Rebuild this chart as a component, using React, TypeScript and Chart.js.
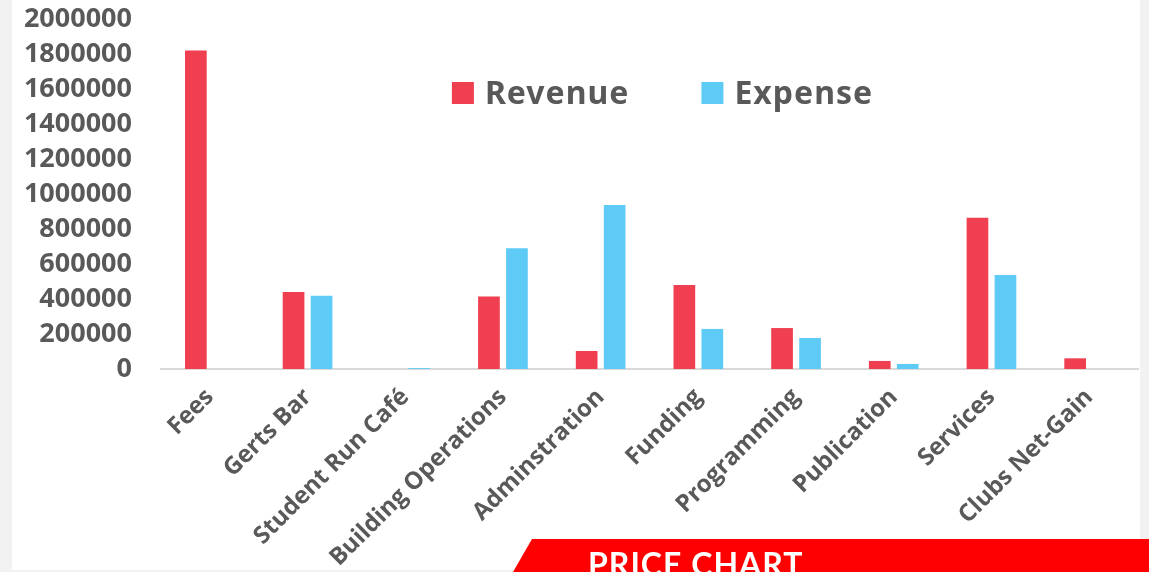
import React, { useEffect, useRef } from "react";
import { Chart, registerables } from "chart.js";

Chart.register(...registerables);

const categories = [
  "Fees",
  "Gerts Bar",
  "Student Run Café",
  "Building Operations",
  "Adminstration",
  "Funding",
  "Programming",
  "Publication",
  "Services",
  "Clubs Net-Gain",
];
const revenue = [1820000, 440000, 0, 415000, 103000, 480000, 234000, 46000, 865000, 61000];
const expense = [0, 419000, 5000, 690000, 937000, 229000, 177000, 29000, 537000, 0];
const yMax = 2000000;
const yStep = 200000;
const bannerText = "PRICE CHART";

const GREY_TEXT = "#595959";

const insideLegend = {
  id: "insideLegend",
  afterDraw(chart: any) {
    const { ctx, chartArea } = chart;
    const box = 22;
    const textGap = 11;
    const itemGap = 72;
    ctx.save();
    ctx.font = "bold 32px 'Noto Sans', sans-serif";
    try {
      (ctx as any).letterSpacing = "1px";
    } catch (e) {}
    const items = chart.data.datasets.map((d: any) => ({
      label: d.label,
      color: d.backgroundColor,
      w: ctx.measureText(d.label).width,
    }));
    const total =
      items.reduce((s: number, it: any) => s + box + textGap + it.w, 0) +
      itemGap * (items.length - 1);
    let x = (chartArea.left + chartArea.right) / 2 + 13 - total / 2;
    const y = chartArea.top + 63;
    for (const it of items) {
      ctx.fillStyle = it.color;
      ctx.fillRect(x, y, box, box);
      ctx.fillStyle = GREY_TEXT;
      ctx.textBaseline = "alphabetic";
      ctx.textAlign = "left";
      ctx.fillText(it.label, x + box + textGap, y + box);
      x += box + textGap + it.w + itemGap;
    }
    ctx.restore();
  },
};

export default function App() {
  const ref = useRef<HTMLCanvasElement | null>(null);

  useEffect(() => {
    if (!ref.current) return;
    const chart = new Chart(ref.current, {
      type: "bar",
      data: {
        labels: categories,
        datasets: [
          {
            label: "Revenue",
            data: revenue,
            backgroundColor: "#f03f51",
            borderWidth: 0,
            categoryPercentage: 0.573,
            barPercentage: 0.775,
          },
          {
            label: "Expense",
            data: expense,
            backgroundColor: "#5ecbf6",
            borderWidth: 0,
            categoryPercentage: 0.573,
            barPercentage: 0.775,
          },
        ],
      },
      options: {
        animation: false,
        responsive: true,
        maintainAspectRatio: false,
        layout: { padding: { top: 19, right: 11, left: 0, bottom: 0 } },
        plugins: {
          tooltip: { enabled: false },
          legend: { display: false },
        },
        scales: {
          x: {
            grid: { display: false, drawTicks: false },
            border: { display: true, color: "#d9d9d9", width: 2 },
            ticks: {
              minRotation: 45,
              maxRotation: 45,
              autoSkip: false,
              padding: 14,
              color: GREY_TEXT,
              font: { family: "'Open Sans', sans-serif", size: 24, weight: "bold" },
            },
            afterFit: (scale: any) => {
              scale.height = 203;
            },
          },
          y: {
            min: 0,
            max: yMax,
            grid: { display: false, drawTicks: true, tickLength: 29 },
            border: { display: false },
            ticks: {
              stepSize: yStep,
              autoSkip: false,
              padding: 0,
              color: GREY_TEXT,
              font: { family: "'Noto Sans', sans-serif", size: 27, weight: "bold" },
              callback: (v: any) => String(v),
            },
            afterFit: (scale: any) => {
              scale.width = 161;
            },
          },
        },
      },
      plugins: [insideLegend],
    });
    return () => chart.destroy();
  }, []);

  return (
    <div
      style={{
        position: "fixed",
        left: 0,
        top: 0,
        width: 1149,
        height: 572,
        background: "#f2f2f2",
        overflow: "hidden",
      }}
    >
      <div
        style={{
          position: "absolute",
          left: 12,
          top: 0,
          width: 1128,
          height: 570,
          background: "#ffffff",
        }}
      />
      <div style={{ position: "absolute", left: 0, top: 0, width: 1149, height: 572 }}>
        <canvas ref={ref} />
      </div>
      <div
        style={{
          position: "absolute",
          left: 513,
          top: 539,
          width: 636,
          height: 33,
          background: "#ff0000",
          clipPath: "polygon(19px 0, 100% 0, 100% 100%, 0 100%)",
        }}
      />
      <div
        style={{
          position: "absolute",
          left: 588,
          top: 548,
          fontFamily: "Lato, 'Noto Sans', sans-serif",
          fontWeight: 700,
          fontSize: 32,
          lineHeight: 1,
          color: "#ffffff",
          letterSpacing: 1,
          whiteSpace: "nowrap",
        }}
      >
        {bannerText}
      </div>
    </div>
  );
}
